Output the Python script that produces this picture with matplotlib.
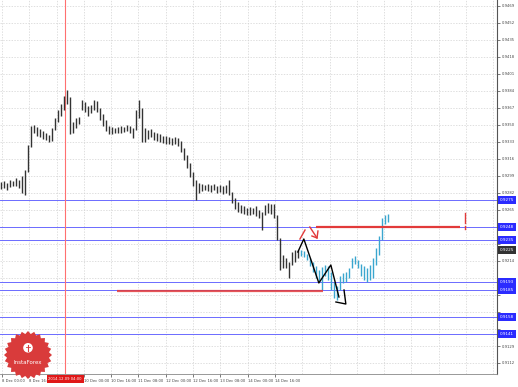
import matplotlib
matplotlib.use("Agg")
import matplotlib.pyplot as plt
import matplotlib.transforms as mtransforms
import numpy as np
from matplotlib.patches import Polygon, Circle

# history bars (black), high / low per bar
hist_high = [
    0.9293, 0.9294, 0.9292, 0.9295, 0.9294, 0.9297, 0.9295, 0.9299, 0.9305, 0.9330,
    0.9349, 0.9350, 0.9348, 0.9346, 0.9344, 0.9342, 0.9340, 0.9347, 0.9357, 0.9365,
    0.9371, 0.9379, 0.9385, 0.9378, 0.9353, 0.9357, 0.9358, 0.9375, 0.9373, 0.9369,
    0.9370, 0.9375, 0.9374, 0.9367, 0.9361, 0.9355, 0.9349, 0.9348, 0.9347, 0.9348,
    0.9349, 0.9348, 0.9350, 0.9349, 0.9347, 0.9365, 0.9375, 0.9367, 0.9347, 0.9345,
    0.9346, 0.9343, 0.9342, 0.9341, 0.9339, 0.9339, 0.9338, 0.9337, 0.9338, 0.9337,
    0.9334, 0.9327, 0.9320, 0.9312, 0.9303, 0.9295, 0.9292, 0.9291, 0.9290, 0.9291,
    0.9290, 0.9291, 0.9289, 0.9290, 0.9289, 0.9290, 0.9295, 0.9283, 0.9277, 0.9273,
    0.9270, 0.9269, 0.9267, 0.9268, 0.9267, 0.9269, 0.9265, 0.9263, 0.9270, 0.9272,
    0.9271, 0.9271, 0.9260, 0.9237, 0.9220, 0.9217, 0.9213, 0.9223, 0.9225, 0.9225,
]
hist_low = [
    0.9286, 0.9287, 0.9285, 0.9288, 0.9289, 0.9289, 0.9287, 0.9282, 0.9280, 0.9303,
    0.9328, 0.9342, 0.9339, 0.9338, 0.9336, 0.9335, 0.9333, 0.9334, 0.9345, 0.9353,
    0.9359, 0.9365, 0.9371, 0.9341, 0.9342, 0.9347, 0.9351, 0.9365, 0.9363, 0.9359,
    0.9362, 0.9365, 0.9363, 0.9355, 0.9349, 0.9344, 0.9341, 0.9341, 0.9342, 0.9342,
    0.9342, 0.9343, 0.9344, 0.9342, 0.9337, 0.9345, 0.9357, 0.9333, 0.9333, 0.9336,
    0.9338, 0.9335, 0.9334, 0.9333, 0.9332, 0.9331, 0.9331, 0.9330, 0.9331, 0.9329,
    0.9323, 0.9315, 0.9307, 0.9298, 0.9289, 0.9275, 0.9282, 0.9284, 0.9285, 0.9284,
    0.9283, 0.9285, 0.9282, 0.9283, 0.9281, 0.9282, 0.9280, 0.9272, 0.9266, 0.9263,
    0.9262, 0.9261, 0.9260, 0.9260, 0.9261, 0.9259, 0.9257, 0.9245, 0.9260, 0.9262,
    0.9261, 0.9257, 0.9235, 0.9205, 0.9207, 0.9207, 0.9197, 0.9210, 0.9213, 0.9217,
]

# later bars (cyan)
new_high = [
    0.9225, 0.9224, 0.9221, 0.9217, 0.9213, 0.9209, 0.9205, 0.9208, 0.9210, 0.9209,
    0.9203, 0.9193, 0.9189, 0.9199, 0.9202, 0.9203, 0.9207, 0.9217, 0.9219, 0.9215,
    0.9211, 0.9209, 0.9207, 0.9210, 0.9217, 0.9227, 0.9239, 0.9257, 0.9260, 0.9261,
]
new_low = [
    0.9219, 0.9218, 0.9215, 0.9209, 0.9203, 0.9197, 0.9193, 0.9185, 0.9199, 0.9195,
    0.9185, 0.9177, 0.9175, 0.9185, 0.9192, 0.9193, 0.9197, 0.9207, 0.9211, 0.9207,
    0.9199, 0.9195, 0.9193, 0.9195, 0.9197, 0.9210, 0.9220, 0.9235, 0.9251, 0.9253,
]

levels = [0.9275, 0.9248, 0.9235, 0.9193, 0.9185, 0.9158, 0.9141]
current_price = 0.9225

# the third label sits under the red cursor box, as in the screenshot
x_labels = ["8 Dec 00:00", "8 Dec 16:00", "", "10 Dec 00:00", "10 Dec 16:00",
            "11 Dec 08:00", "12 Dec 00:00", "12 Dec 16:00", "13 Dec 08:00",
            "14 Dec 00:00", "14 Dec 16:00"]
cursor_label = "2014.12.09 04:00"
cursor_bar = 21.2

# wave drawing (bar index, price)
wave_x = [98.8, 100.8, 105.8, 109.8, 112.5]
wave_y = [0.9223, 0.9236, 0.9192, 0.9210, 0.9178]
hook_x = [114.2, 114.8, 111.5]
hook_y = [0.9185, 0.9171, 0.9173]

# red marks
upper_red = (104.8, 152.8, 0.9248)
lower_red = (38.5, 107.2, 0.9184)

BLUE_LINE = "#6b6bff"
RED = "#e23a3a"

fig = plt.figure(figsize=(5.18, 3.87), dpi=100)
ax = fig.add_axes([0, 13 / 387, 497 / 518, 374 / 387])
ax.set_xlim(-0.5, 165.2)
ax.set_ylim(0.9101, 0.9475)

# grid
xgrid = np.arange(0.17, 166, 9.1)
yticks = np.arange(0.9112, 0.9476, 0.0017)
for gx in xgrid:
    ax.axvline(gx, color="#d2d2d2", lw=0.5, ls=(0, (2, 2)), zorder=0)
for gy in yticks:
    ax.axhline(gy, color="#d2d2d2", lw=0.5, ls=(0, (2, 2)), zorder=0)

# level lines
for lv in levels:
    ax.axhline(lv, color=BLUE_LINE, lw=0.7, zorder=1)

ax.axvline(cursor_bar, color="#ff7070", lw=0.8, zorder=1)

# bars
hx = np.arange(len(hist_high))
ax.vlines(hx, hist_low, hist_high, color="#333333", lw=1.0, zorder=3)
nx = np.arange(len(new_high)) + len(hist_high)
ax.vlines(nx, new_low, new_high, color="#3aa6cf", lw=1.0, zorder=3)

# red horizontal lines
ax.hlines(upper_red[2], upper_red[0], upper_red[1], color=RED, lw=1.6, zorder=4)
ax.hlines(lower_red[2], lower_red[0], lower_red[1], color=RED, lw=1.6, zorder=4, alpha=0.85)

# wave
ax.plot(wave_x, wave_y, color="black", lw=1.0, zorder=5)
ax.plot(hook_x, hook_y, color="black", lw=1.0, zorder=5)

# small red marks
ax.plot([99.5, 101.2], [0.9236, 0.9245], color=RED, lw=1.0, zorder=5)
ax.plot([102.8, 105.2], [0.9248, 0.9237], color=RED, lw=1.0, zorder=5)
ax.plot([103.5, 105.2, 105.5], [0.9239, 0.9237, 0.9244], color=RED, lw=1.0, zorder=5)
ax.plot([154.5, 154.5], [0.9262, 0.9252], color=RED, lw=1.0, zorder=5)
ax.plot([154.5, 154.5], [0.9249, 0.9246], color=RED, lw=1.0, zorder=5)

# axes styling
for side in ["left", "top"]:
    ax.spines[side].set_visible(False)
ax.spines["right"].set_color("#555555")
ax.spines["bottom"].set_color("#888888")
ax.spines["right"].set_linewidth(0.8)
ax.spines["bottom"].set_linewidth(0.6)

# price labels hidden where a level box covers them
marks = levels + [current_price]
ylab = [("" if min(abs(v - m) for m in marks) < 0.0007 else f"{v:.4f}") for v in yticks]
ax.yaxis.tick_right()
ax.set_yticks(yticks)
ax.set_yticklabels(ylab)
ax.set_xticks(xgrid[:len(x_labels)])
ax.set_xticklabels(x_labels, ha="left")
ax.tick_params(axis="both", labelsize=2.7, colors="#444444", length=2, width=0.5, pad=1.5)

# right side price boxes
trans_y = mtransforms.blended_transform_factory(ax.transAxes, ax.transData)
for lv in levels:
    ax.text(1.006, lv, f"{lv:.4f}", transform=trans_y, fontsize=3, color="white",
            va="center", ha="left", zorder=6, clip_on=False,
            bbox=dict(boxstyle="square,pad=0.45", fc="#2b2bff", ec="none"))
ax.text(1.006, current_price, f"{current_price:.4f}", transform=trans_y, fontsize=3,
        color="white", va="center", ha="left", zorder=6, clip_on=False,
        bbox=dict(boxstyle="square,pad=0.45", fc="#333333", ec="none"))

# cursor time box on x axis
trans_x = mtransforms.blended_transform_factory(ax.transData, ax.transAxes)
ax.text(cursor_bar, -0.008, cursor_label, transform=trans_x, fontsize=2.7, color="white",
        va="top", ha="center", zorder=6, clip_on=False,
        bbox=dict(boxstyle="square,pad=0.45", fc="#e01818", ec="none"))

# InstaForex seal
logo = fig.add_axes([4 / 518, 8 / 387, 48 / 518, 48 / 387])
logo.set_xlim(-1, 1)
logo.set_ylim(-1, 1)
logo.axis("off")
ang = np.linspace(0, 2 * np.pi, 49)[:-1]
rad = np.where(np.arange(48) % 2 == 0, 1.0, 0.88)
logo.add_patch(Polygon(np.column_stack([rad * np.cos(ang), rad * np.sin(ang)]),
                       closed=True, fc="#d93b3b", ec="none"))
logo.add_patch(Circle((0, 0.3), 0.2, fc="white", ec="none"))
logo.plot([0, 0], [0.18, 0.42], color="#d93b3b", lw=0.8)
logo.plot([-0.08, 0.08], [0.34, 0.34], color="#d93b3b", lw=0.6)
logo.text(0, -0.3, "InstaForex", color="white", fontsize=4, ha="center", va="center")

fig.savefig("out.png", dpi=100)
